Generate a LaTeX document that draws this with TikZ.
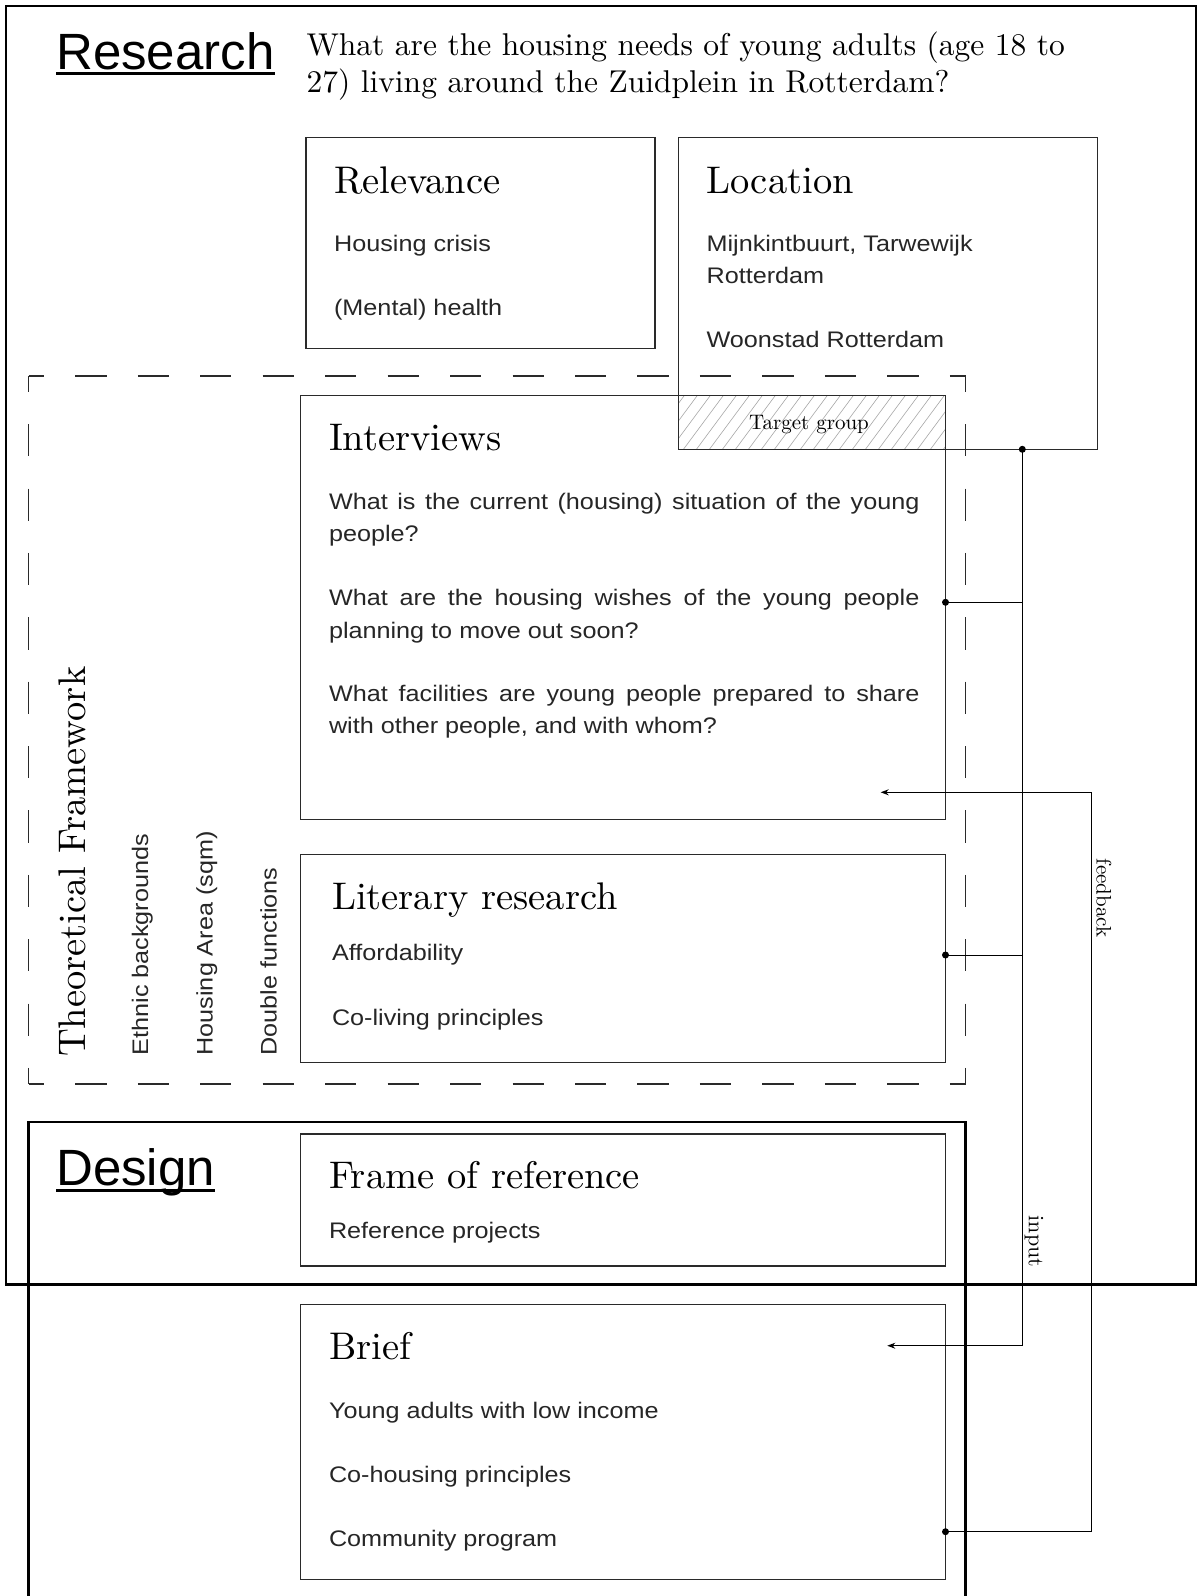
\documentclass[tikz,border=0pt]{standalone}
\usepackage{fontspec}
\setmainfont{lmroman10-regular.otf}
\newfontfamily\bodyfont[FakeStretch=1.12]{Liberation Sans}
\newfontfamily\headfont{Liberation Sans}
\usetikzlibrary{arrows.meta}
\definecolor{ink}{HTML}{262626}
\definecolor{boxline}{HTML}{2A2A2A}
\definecolor{hatchc}{HTML}{A8A8A8}
\begin{document}
\begin{tikzpicture}[x=1pt,y=-1pt,
  box/.style={draw=boxline, line width=1.2pt, inner sep=0pt, outer sep=0pt},
  ttl/.style={font=\fontsize{38.5}{46}\selectfont, anchor=base west, inner sep=0pt, text=black},
  body/.style={font=\bodyfont\fontsize{22.5}{27}\selectfont, anchor=base west, inner sep=0pt, text=ink},
  head/.style={font=\headfont\fontsize{51}{60}\selectfont, anchor=base west, inner sep=0pt, text=black},
  quest/.style={font=\fontsize{31.5}{38}\selectfont, anchor=base west, inner sep=0pt, text=black},
  note/.style={font=\fontsize{21}{25}\selectfont, inner sep=0pt, text=black},
  conn/.style={line width=1pt, draw=black},
  dotc/.style={circle, fill=black, inner sep=0pt, minimum size=7pt},
  tip/.style={-{Stealth[length=8pt,width=6pt]}},
  frameline/.style={line width=2.2pt, draw=black},
  dashside/.style={line width=1.2pt, draw=boxline},
  hatch/.style={draw=hatchc, line width=0.6pt},
  uline/.style={line width=3pt, draw=black}
]
\useasboundingbox[fill=white] (0,0) rectangle (1197,1596);

% target group area and hatching
\node[minimum width=267pt, minimum height=53.8pt, inner sep=0pt] (tg) at (812,422.4) {};
\begin{scope}
  \clip (tg.south west) rectangle (tg.north east);
  \foreach \i in {0,13,...,351}
    \draw[hatch] ([xshift=\i pt-60pt]tg.south west) -- ++(40,-54);
\end{scope}

% outer frames
\node[frameline, minimum width=1190pt, minimum height=1278.5pt, inner sep=0pt] (resbox) at (601,645.25) {};
\coordinate (dTL) at (28.5,1122);
\coordinate (dTR) at (965.5,1122);
\coordinate (dBL) at (28.5,1600);
\coordinate (dBR) at (965.5,1600);
\draw[frameline] (dBL) -- (dTL) -- (dTR) -- (dBR);

% dashed theoretical framework frame
\coordinate (fA) at (28.5,376);
\coordinate (fB) at (965.5,376);
\coordinate (fC) at (965.5,1084);
\coordinate (fD) at (28.5,1084);
\draw[dashside, dash pattern=on 31.23pt off 31.23pt, dash phase=15.62pt] (fA) -- (fB);
\draw[dashside, dash pattern=on 31.23pt off 31.23pt, dash phase=15.62pt] (fD) -- (fC);
\draw[dashside, dash pattern=on 32.18pt off 32.18pt, dash phase=16.09pt] (fA) -- (fD);
\draw[dashside, dash pattern=on 32.18pt off 32.18pt, dash phase=16.09pt] (fB) -- (fC);

% boxes
\node[box, minimum width=349pt, minimum height=211.2pt] (rel) at (480.5,242.9) {};
\node[box, minimum width=419pt, minimum height=312pt] (loc) at (888,293.3) {};
\node[box, minimum width=645pt, minimum height=424pt] (int) at (623,607.5) {};
\node[box, minimum width=645pt, minimum height=208.2pt] (lit) at (623,958.6) {};
\node[box, minimum width=645pt, minimum height=132pt] (frm) at (623,1200) {};
\node[box, minimum width=645pt, minimum height=275pt] (brf) at (623,1442) {};

% headings
\node[head] (restitle) at (56,69.2) {Research};
\draw[uline] ([yshift=-4.5pt]restitle.base west) -- ([yshift=-4.5pt]restitle.base east);
\node[head] (destitle) at (56,1185.9) {Design};
\draw[uline] ([yshift=-4.5pt]destitle.base west) -- ([yshift=-4.5pt]destitle.base east);

\node[quest] (q1) at (306.4,55) {What are the housing needs of young adults (age 18 to};
\node[quest] (q2) at (306.4,92.7) {27) living around the Zuidplein in Rotterdam?};

% titles
\node[ttl] (relT) at (333.9,193.2) {Relevance};
\node[ttl] (locT) at (706.4,193.2) {Location};
\node[ttl] (intT) at (328.8,450.7) {Interviews};
\node[ttl] (litT) at (331.8,909) {Literary research};
\node[ttl] (frmT) at (328.8,1188.7) {Frame of reference};
\node[ttl] (brfT) at (328.8,1359.7) {Brief};

% body texts
\node[body] (rel1) at (333.9,251.4) {Housing crisis};
\node[body] (rel2) at (333.9,315.5) {(Mental) health};
\node[body] (loc1) at (706.4,251.4) {Mijnkintbuurt, Tarwewijk};
\node[body] (loc2) at (706.4,283) {Rotterdam};
\node[body] (loc3) at (706.4,347.1) {Woonstad Rotterdam};

\node[body] (int1) at (328.8,509) {\makebox[590.4pt][s]{What is the current (housing) situation of the young}};
\node[body] (int2) at (328.8,541.5) {people?};
\node[body] (int3) at (328.8,605.6) {\makebox[590.4pt][s]{What are the housing wishes of the young people}};
\node[body] (int4) at (328.8,638.2) {planning to move out soon?};
\node[body] (int5) at (328.8,701.3) {\makebox[590.4pt][s]{What facilities are young people prepared to share}};
\node[body] (int6) at (328.8,733.9) {with other people, and with whom?};

\node[body] (lit1) at (331.8,960.9) {Affordability};
\node[body] (lit2) at (331.8,1025) {Co-living principles};
\node[body] (frm1) at (328.8,1238.8) {Reference projects};
\node[body] (brf1) at (328.8,1418) {Young adults with low income};
\node[body] (brf2) at (328.8,1482) {Co-housing principles};
\node[body] (brf3) at (328.8,1546.2) {Community program};

% theoretical framework (rotated)
\node[ttl, rotate=90] (tfT) at (85,1057) {Theoretical Framework};
\node[body, rotate=90] (tf1) at (148,1055.6) {Ethnic backgrounds};
\node[body, rotate=90] (tf2) at (212.7,1055.6) {Housing Area (sqm)};
\node[body, rotate=90] (tf3) at (276.5,1055.6) {Double functions};

% small labels
\node[note, anchor=base] (tgT) at (809,429.5) {Target group};
\node[note, rotate=-90] (fbT) at (1104,898) {feedback};
\node[note, font=\fontsize{22}{26}\selectfont, rotate=-90] (inT) at (1034,1241.5) {input};

% connectors
\coordinate (tgDot) at (1022.3,449.3);
\coordinate (intDot) at (945.5,602.3);
\coordinate (litDot) at (945.5,955);
\coordinate (brfDot) at (945.5,1531.7);
\coordinate (inBend) at (1022.3,1345.7);
\coordinate (inTip) at (887.3,1345.7);
\coordinate (fbA) at (1091.7,1531.7);
\coordinate (fbB) at (1091.7,792.3);
\coordinate (fbTip) at (880.7,792.3);

\draw[conn] (tgDot) -- (inBend);
\draw[conn, tip] (inBend) -- (inTip);
\draw[conn] (intDot) -- (intDot -| tgDot);
\draw[conn] (litDot) -- (litDot -| tgDot);
\draw[conn, tip] (brfDot) -- (fbA) -- (fbB) -- (fbTip);

\node[dotc] (d1) at (tgDot) {};
\node[dotc] (d2) at (intDot) {};
\node[dotc] (d3) at (litDot) {};
\node[dotc] (d4) at (brfDot) {};
\end{tikzpicture}
\end{document}
